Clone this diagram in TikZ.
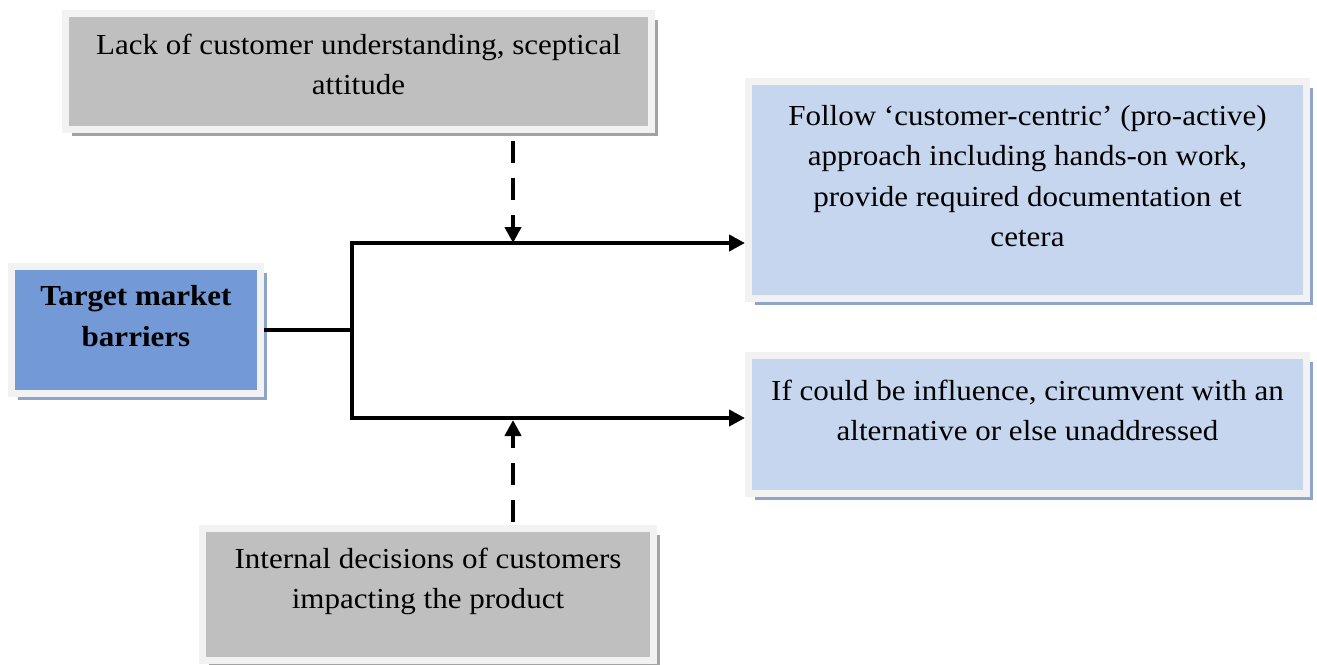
\documentclass[tikz,border=0pt]{standalone}
\usepackage{fontspec}
\setmainfont{Liberation Serif}[FakeStretch=1.07]
\usetikzlibrary{arrows.meta,shadows}

\definecolor{boxgray}{RGB}{191,191,191}
\definecolor{rim}{RGB}{242,242,242}
\definecolor{shgray}{RGB}{163,163,163}
\definecolor{bluedark}{RGB}{115,153,214}
\definecolor{bluelight}{RGB}{198,214,238}
\definecolor{shblue}{RGB}{142,164,203}

\tikzset{
  card/.style={draw=rim, line width=7pt, inner sep=0pt},
  greycard/.style={card, fill=boxgray,
    drop shadow={shadow xshift=6.5pt, shadow yshift=-6.5pt, fill=shgray, opacity=1}},
  bluecard/.style={card, fill=#1,
    drop shadow={shadow xshift=6.5pt, shadow yshift=-6.5pt, fill=shblue, opacity=1}},
  txt/.style={align=center, inner sep=0pt, font=\fontsize{29}{40.5}\selectfont},
  tip/.style={Triangle[length=16pt,width=16pt]},
  flow/.style={line width=4.5pt, line join=miter, -{Triangle[length=16pt,width=16pt]}},
  hint/.style={flow, dash pattern=on 22pt off 15pt},
}

\begin{document}
\begin{tikzpicture}[x=1pt, y=-1pt]
  \useasboundingbox (0,0) rectangle (1317,664);

  % boxes
  \node[greycard, minimum width=586pt, minimum height=116pt] (lack) at (358.5,71.5) {};
  \node[bluecard=bluedark, minimum width=249pt, minimum height=127pt] (barrier) at (136,330) {};
  \node[bluecard=bluelight, minimum width=558pt, minimum height=217pt] (follow) at (1027.5,190) {};
  \node[bluecard=bluelight, minimum width=558pt, minimum height=138pt] (influence) at (1027.5,424.5) {};
  \node[greycard, minimum width=451pt, minimum height=132pt] (internal) at (428,594.5) {};

  % texts
  \node[txt] (lack-t) at (lack.center) [yshift=7pt]
    {Lack of customer understanding, sceptical\\attitude};
  \node[txt, font=\fontsize{29}{40.5}\selectfont\bfseries] (barrier-t) at (barrier.center) [yshift=14pt]
    {Target market\\barriers};
  \node[txt] (follow-t) at (follow.center) [yshift=14pt]
    {Follow `customer-centric' (pro-active)\\approach including hands-on work,\\provide required documentation et\\cetera};
  \node[txt] (influence-t) at (influence.center) [yshift=14pt]
    {If could be influence, circumvent with an\\alternative or else unaddressed};
  \node[txt] (internal-t) at (internal.center) [yshift=13pt]
    {Internal decisions of customers\\impacting the product};

  % connectors
  \coordinate (fork) at (352,330);
  \coordinate (j1) at (513,243);
  \coordinate (j2) at (513,418);

  \draw[line width=4.5pt] (barrier.east) -- (fork);
  \draw[flow, {Triangle[length=16pt,width=16pt]}-{Triangle[length=16pt,width=16pt]}]
    (follow.west |- j1) -- (fork |- j1) -- (fork |- j2) -- (influence.west |- j2);
  \draw[hint, shorten <=8pt] (lack.south -| j1) -- (j1);
  \draw[hint, shorten <=3pt, shorten >=2pt] (internal.north -| j2) -- (j2);
\end{tikzpicture}
\end{document}
